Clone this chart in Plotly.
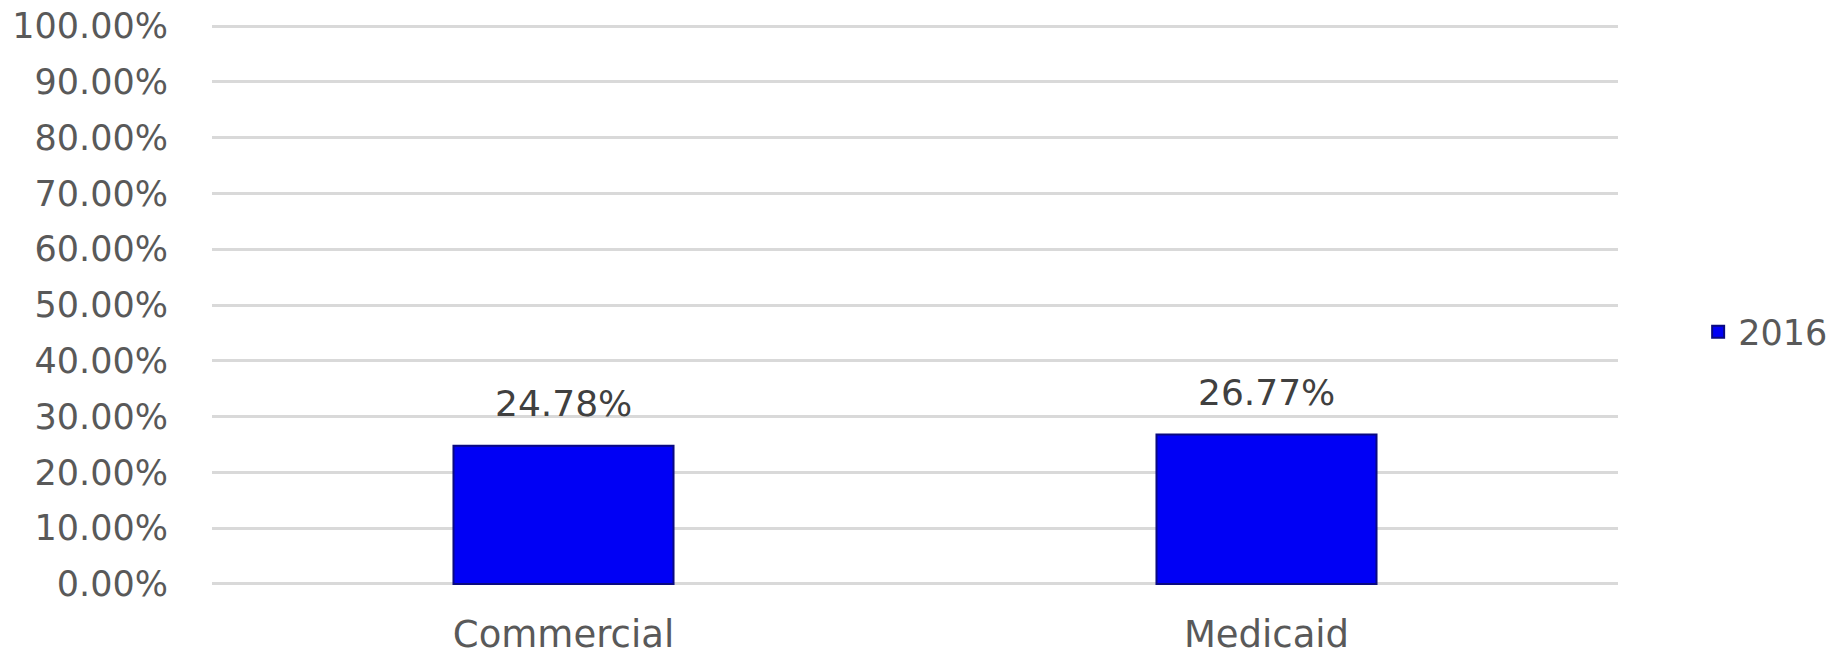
import plotly.graph_objects as go

categories = ["Commercial", "Medicaid"]
values_2016 = [0.2478, 0.2677]
series_name = "2016"

fig = go.Figure()
fig.add_trace(go.Bar(
    x=categories,
    y=values_2016,
    name=series_name,
    marker=dict(color="#0000F5", line=dict(color="#0a0a80", width=2)),
    width=0.313,
    showlegend=True,
))

for c, v in zip(categories, values_2016):
    fig.add_annotation(
        x=c, y=v, text=f"{v*100:.2f}%", showarrow=False,
        yanchor="middle", yshift=42,
        font=dict(family="DejaVu Sans", size=36, color="#404040"),
    )

fig.update_layout(
    width=1833, height=651,
    margin=dict(l=204, r=223, t=17, b=74, autoexpand=False),
    paper_bgcolor="white", plot_bgcolor="white",
    font=dict(family="DejaVu Sans", size=35, color="#595959"),
    legend=dict(x=1.057, xanchor="left", y=0.452, yanchor="middle",
                font=dict(size=35, color="#595959"), bgcolor="rgba(0,0,0,0)"),
)
fig.update_yaxes(
    range=[-0.002, 1.002], tickvals=[i / 10 for i in range(11)], tickformat=".2%",
    showgrid=True, gridcolor="#d9d9d9", gridwidth=3,
    zeroline=False, showline=False, ticklabelstandoff=43,
    automargin=False, ticklabeloverflow="allow",
)
fig.update_xaxes(
    showgrid=False, zeroline=False, showline=False, ticklabelstandoff=24,
    tickfont=dict(size=37), automargin=False, ticklabeloverflow="allow",
)
fig.write_html("out.html")
